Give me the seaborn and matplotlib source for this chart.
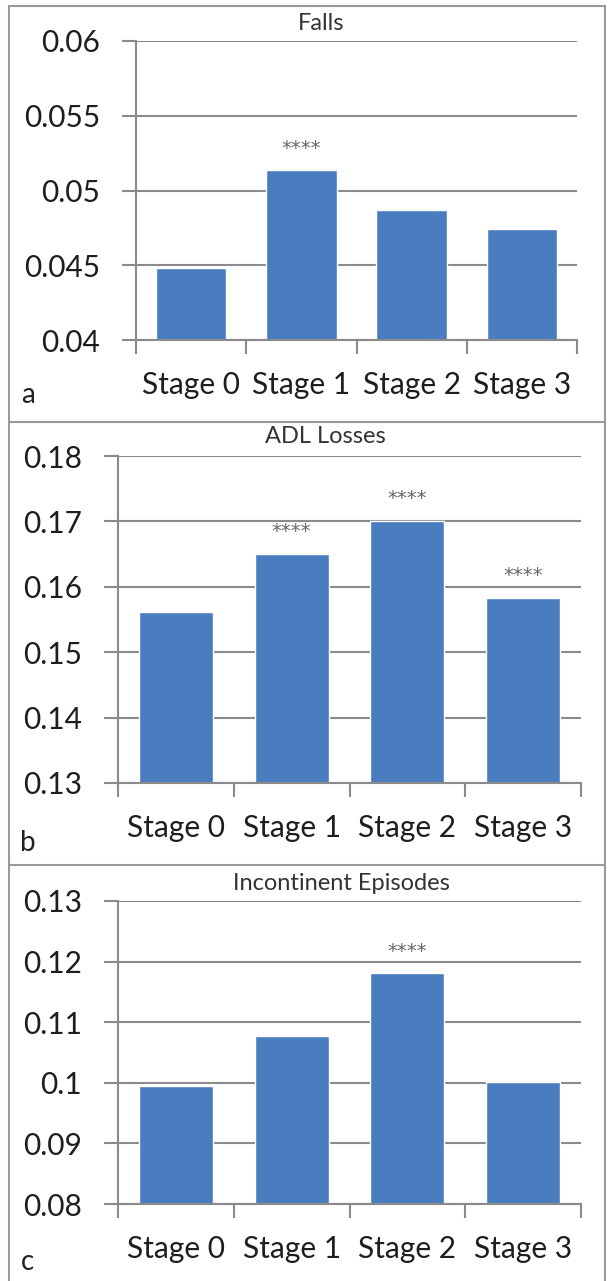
import numpy as np
import pandas as pd
import matplotlib
matplotlib.use("Agg")
import matplotlib.pyplot as plt
from matplotlib.lines import Line2D
import seaborn as sns

stages = ["Stage 0", "Stage 1", "Stage 2", "Stage 3"]
falls = [0.0448, 0.0514, 0.0487, 0.0474]
adl = [0.1561, 0.1650, 0.1700, 0.1583]
incont = [0.0994, 0.1077, 0.1181, 0.1001]
falls_sig = ["", "****", "", ""]
adl_sig = ["", "****", "****", "****"]
incont_sig = ["", "", "****", ""]

sns.set_theme(style="white")
plt.rcParams['font.family'] = ['Lato', 'DejaVu Sans']

W, H = 608, 1281
fig = plt.figure(figsize=(W / 100, H / 100), dpi=100)

bar_col = "#4a7dbf"
grid_col = "#8a8a8a"


def px_axes(l, r, t, b):
    return fig.add_axes([l / W, (H - b) / H, (r - l) / W, (b - t) / H])


def panel(ax, vals, sig, ylim, yticks, ylabels, title, title_x, title_y, letter, letter_y):
    df = pd.DataFrame({"stage": stages, "value": vals})
    sns.barplot(data=df, x="stage", y="value", color=bar_col, saturation=1,
                width=0.64, ax=ax)
    ax.set_ylim(*ylim)
    ax.set_xlim(-0.5, 3.5)
    ax.set_yticks(yticks)
    ax.set_yticklabels(ylabels, fontsize=21.5, color="#1e1e1e")
    ax.set_xlabel("")
    ax.set_ylabel("")
    ax.set_axisbelow(True)
    ax.yaxis.grid(True, color=grid_col, lw=1.5)
    ax.tick_params(axis="y", length=10, width=1.5, color=grid_col, pad=16, left=True)
    ax.tick_params(axis="x", which="major", length=0, pad=22, labelsize=21.5,
                   labelcolor="#1e1e1e")
    ax.set_xticks(np.arange(-0.5, 4, 1), minor=True)
    ax.tick_params(axis="x", which="minor", length=10, width=1.5, color=grid_col, bottom=True)
    for s in ["top", "right"]:
        ax.spines[s].set_visible(False)
    for s in ["left", "bottom"]:
        ax.spines[s].set_color(grid_col)
        ax.spines[s].set_linewidth(1.5)
    span = ylim[1] - ylim[0]
    for i, (v, s) in enumerate(zip(vals, sig)):
        if s:
            ax.text(i, v + span * 0.04, s, ha="center", va="bottom",
                    fontsize=14, color="#666666", family="DejaVu Sans")
    fig.text(title_x / W, 1 - title_y / H, title, ha="center", va="center",
             fontsize=17, color="#333333")
    fig.text(28 / W, 1 - letter_y / H, letter, ha="center", va="center",
             fontsize=20, color="#222222")


ax_a = px_axes(136, 577, 41, 340)
panel(ax_a, falls, falls_sig, (0.04, 0.06),
      [0.04, 0.045, 0.05, 0.055, 0.06], ["0.04", "0.045", "0.05", "0.055", "0.06"],
      "Falls", 321, 24, "a", 395)

ax_b = px_axes(118, 581, 456, 783)
panel(ax_b, adl, adl_sig, (0.13, 0.18),
      [0.13, 0.14, 0.15, 0.16, 0.17, 0.18], ["0.13", "0.14", "0.15", "0.16", "0.17", "0.18"],
      "ADL Losses", 325, 437, "b", 843)

ax_c = px_axes(118, 581, 901, 1204)
panel(ax_c, incont, incont_sig, (0.08, 0.13),
      [0.08, 0.09, 0.10, 0.11, 0.12, 0.13], ["0.08", "0.09", "0.1", "0.11", "0.12", "0.13"],
      "Incontinent Episodes", 341, 883, "c", 1262)

# panel borders
border = "#9a9a9a"
for y in [6, 422, 865]:
    fig.add_artist(Line2D([9 / W, 605 / W], [1 - y / H, 1 - y / H], color=border, lw=1.5))
for x in [9, 605]:
    fig.add_artist(Line2D([x / W, x / W], [1 - 6 / H, 0], color=border, lw=1.5))

fig.savefig("out.png", dpi=100)
